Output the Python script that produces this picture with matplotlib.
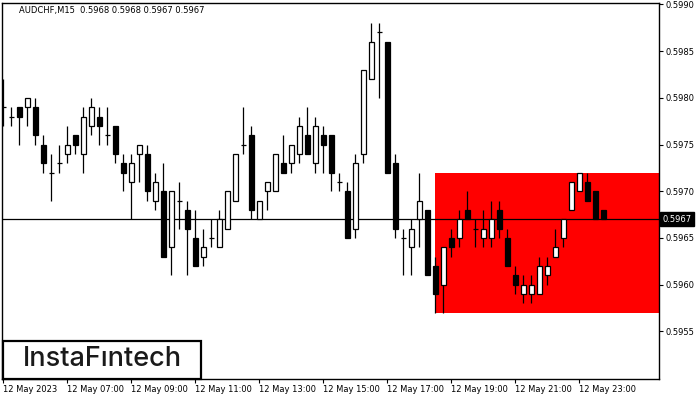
import numpy as np
import matplotlib.pyplot as plt
from matplotlib.patches import Rectangle
from matplotlib.transforms import blended_transform_factory

# AUDCHF M15 candles, 12 May 2023 05:00 .. 23:45
opens = [0.5979, 0.5978, 0.5979, 0.5979, 0.5979, 0.5975, 0.5972, 0.5973, 0.5974, 0.5976,
         0.5974, 0.5977, 0.5978, 0.5976, 0.5977, 0.5973, 0.5971, 0.5974, 0.5974, 0.5969,
         0.5970, 0.5964, 0.5969, 0.5968, 0.5965, 0.5963, 0.5965, 0.5964, 0.5966, 0.5969,
         0.5975, 0.5976, 0.5967, 0.5970, 0.5970, 0.5973, 0.5973, 0.5974, 0.5976, 0.5973,
         0.5976, 0.5976, 0.5971, 0.5970, 0.5966, 0.5974, 0.5982, 0.5987, 0.5986, 0.5973,
         0.5965, 0.5964, 0.5967, 0.5968, 0.5962, 0.5960, 0.5965, 0.5965, 0.5968, 0.5966,
         0.5965, 0.5965, 0.5968, 0.5965, 0.5961, 0.5959, 0.5959, 0.5959, 0.5961, 0.5963,
         0.5965, 0.5968, 0.5970, 0.5971, 0.5970, 0.5968]
highs = [0.5982, 0.5979, 0.5979, 0.5980, 0.5980, 0.5976, 0.5974, 0.5975, 0.5977, 0.5976,
         0.5979, 0.5980, 0.5979, 0.5979, 0.5977, 0.5974, 0.5974, 0.5975, 0.5975, 0.5972,
         0.5973, 0.5970, 0.5971, 0.5969, 0.5968, 0.5966, 0.5967, 0.5968, 0.5970, 0.5974,
         0.5979, 0.5977, 0.5969, 0.5971, 0.5974, 0.5976, 0.5975, 0.5978, 0.5979, 0.5978,
         0.5977, 0.5976, 0.5972, 0.5971, 0.5974, 0.5983, 0.5988, 0.5988, 0.5986, 0.5974,
         0.5966, 0.5967, 0.5972, 0.5968, 0.5963, 0.5964, 0.5966, 0.5968, 0.5970, 0.5967,
         0.5968, 0.5969, 0.5969, 0.5966, 0.5962, 0.5961, 0.5961, 0.5963, 0.5963, 0.5966,
         0.5967, 0.5971, 0.5972, 0.5972, 0.5970, 0.5968]
lows = [0.5977, 0.5977, 0.5975, 0.5977, 0.5975, 0.5972, 0.5969, 0.5972, 0.5973, 0.5974,
        0.5972, 0.5976, 0.5975, 0.5975, 0.5973, 0.5970, 0.5967, 0.5971, 0.5969, 0.5968,
        0.5963, 0.5961, 0.5966, 0.5961, 0.5962, 0.5962, 0.5964, 0.5964, 0.5966, 0.5969,
        0.5974, 0.5967, 0.5967, 0.5968, 0.5970, 0.5972, 0.5972, 0.5973, 0.5974, 0.5972,
        0.5972, 0.5970, 0.5970, 0.5965, 0.5965, 0.5973, 0.5982, 0.5980, 0.5972, 0.5965,
        0.5961, 0.5961, 0.5964, 0.5961, 0.5957, 0.5957, 0.5963, 0.5964, 0.5967, 0.5964,
        0.5964, 0.5964, 0.5965, 0.5962, 0.5959, 0.5958, 0.5958, 0.5959, 0.5960, 0.5963,
        0.5964, 0.5968, 0.5970, 0.5969, 0.5967, 0.5967]
closes = [0.5979, 0.5978, 0.5978, 0.5980, 0.5976, 0.5973, 0.5972, 0.5973, 0.5975, 0.5975,
          0.5978, 0.5979, 0.5977, 0.5976, 0.5974, 0.5972, 0.5973, 0.5975, 0.5970, 0.5971,
          0.5963, 0.5970, 0.5969, 0.5966, 0.5962, 0.5964, 0.5965, 0.5967, 0.5970, 0.5974,
          0.5975, 0.5968, 0.5969, 0.5971, 0.5974, 0.5972, 0.5975, 0.5977, 0.5974, 0.5977,
          0.5975, 0.5972, 0.5971, 0.5965, 0.5973, 0.5983, 0.5986, 0.5987, 0.5972, 0.5966,
          0.5965, 0.5966, 0.5969, 0.5961, 0.5959, 0.5964, 0.5964, 0.5967, 0.5967, 0.5966,
          0.5966, 0.5967, 0.5966, 0.5962, 0.5960, 0.5960, 0.5960, 0.5962, 0.5962, 0.5964,
          0.5967, 0.5971, 0.5972, 0.5969, 0.5967, 0.5967]

tick_idx = [0, 8, 16, 24, 32, 40, 48, 56, 64, 72]
tick_labels = ["12 May 2023", "12 May 07:00", "12 May 09:00", "12 May 11:00", "12 May 13:00",
               "12 May 15:00", "12 May 17:00", "12 May 19:00", "12 May 21:00", "12 May 23:00"]
price_ticks = [0.5955, 0.5960, 0.5965, 0.5970, 0.5975, 0.5980, 0.5985, 0.5990]

# pattern zone (red box) and current bid
zone_start = 54
zone_low, zone_high = 0.5957, 0.5972
bid = 0.5967
title = "AUDCHF,M15  0.5968 0.5968 0.5967 0.5967"

plt.rcParams['font.family'] = ['DejaVu Sans']
fig = plt.figure(figsize=(7, 4), dpi=100)
W, H = 700, 400
ax = fig.add_axes([1.5 / W, 1 - 379 / H, (659 - 1.5) / W, (379 - 2.5) / H])

x = np.arange(len(opens))
o = np.array(opens); c = np.array(closes)
xmax = 81.96
ax.set_xlim(-0.225, xmax)
ax.set_ylim(0.59499, 0.599021)

ax.add_patch(Rectangle((zone_start, zone_low), xmax - zone_start, zone_high - zone_low,
                       facecolor='#ff0000', edgecolor='none', zorder=1))
ax.axhline(bid, color='black', lw=0.9, zorder=2)

ax.vlines(x, lows, highs, color='black', lw=0.9, zorder=3)
bull = c >= o
ax.bar(x[bull], (c - o)[bull], bottom=o[bull], width=0.6, facecolor='white',
       edgecolor='black', lw=0.9, zorder=4)
ax.bar(x[~bull], (c - o)[~bull], bottom=o[~bull], width=0.6, facecolor='black',
       edgecolor='black', lw=0.9, zorder=4)

ax.yaxis.tick_right()
ax.set_yticks(price_ticks)
ax.set_yticklabels(["%.4f" % p for p in price_ticks])
ax.set_xticks(tick_idx)
ax.set_xticklabels(tick_labels, ha='left')
ax.tick_params(axis='both', direction='out', length=3, width=0.8, labelsize=6, colors='black')
ax.tick_params(axis='x', pad=1.5)
ax.tick_params(axis='y', pad=2)
for s in ax.spines.values():
    s.set_linewidth(1.0)

# current price badge
tr = blended_transform_factory(ax.transAxes, ax.transData)
ax.text(1.0 + 3.5 / 657.5, bid, "0.5967", transform=tr, fontsize=6, color='white',
        va='center', ha='left',
        bbox=dict(boxstyle='square,pad=0.3', facecolor='black', edgecolor='black'))

fig.text(19 / W, 1 - 11 / H, title, fontsize=6, va='center', ha='left')

# logo
fig.add_artist(Rectangle((3 / W, 1 - 379 / H), 198 / W, 38 / H, transform=fig.transFigure,
                         facecolor='white', edgecolor='black', lw=1.6, zorder=5))
fig.text(102 / W, 1 - 359.5 / H, "InstaF\u0131ntech", fontsize=19.5, fontweight=500,
         family=['Inter', 'DejaVu Sans'], color='#1a1a1a', ha='center', va='center', zorder=6)

fig.savefig("out.png", dpi=100)
